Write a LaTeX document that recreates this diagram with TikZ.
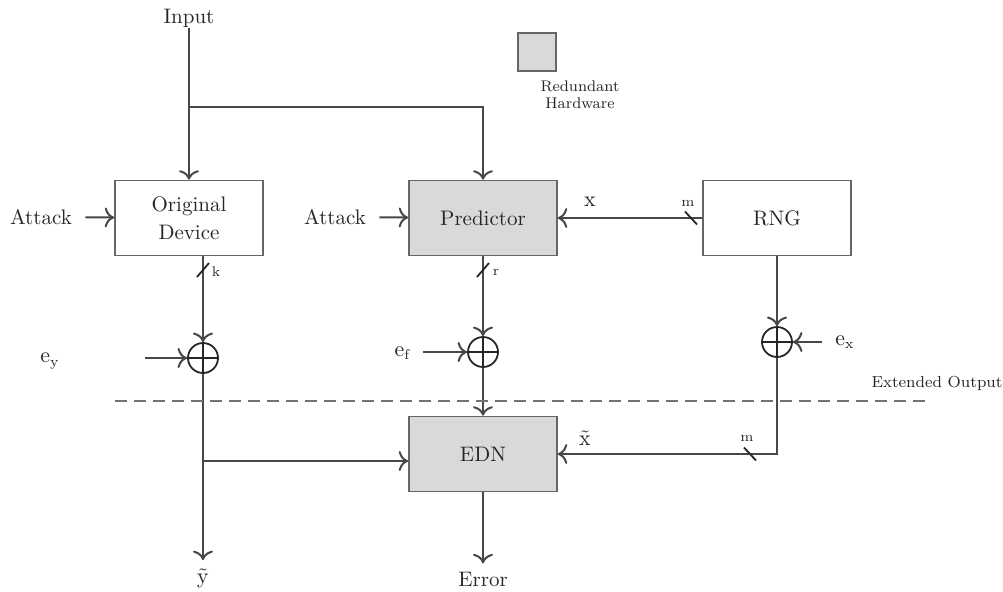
\documentclass[tikz,border=0pt]{standalone}
\usetikzlibrary{arrows.meta}
\begin{document}
\begin{tikzpicture}[x=0.5pt,y=-0.5pt,
  >={To[scale=1.25]},
  line/.style={draw=black!72, line width=1pt},
  arr/.style={line,->},
  blk/.style={draw=black!60, line width=0.8pt, minimum width=74pt, minimum height=37.5pt, inner sep=0pt, font=\fontsize{10.5}{14}\selectfont, align=center, text=black!85},
  redbox/.style={blk, fill=black!15},
  xorn/.style={circle, draw=black!85, line width=0.9pt, minimum size=15pt, inner sep=0pt,
    path picture={\draw[black!85,line width=0.8pt] (path picture bounding box.north) -- (path picture bounding box.south) (path picture bounding box.west) -- (path picture bounding box.east);}},
  lbl/.style={font=\fontsize{10.5}{12}\selectfont, text=black!85, inner sep=0pt},
  sml/.style={font=\fontsize{7}{8}\selectfont, text=black!85, inner sep=0pt},
  bus/.style={draw=black!85, line width=0.9pt},
]
\useasboundingbox (0,0) rectangle (1003,591);
% blocks
\node[blk] (orig) at (189,218) {Original\\Device};
\node[redbox] (pred) at (483,218) {Predictor};
\node[blk] (rng) at (777,218) {RNG};
\node[redbox] (edn) at (483,454) {EDN};
% xor
\node[xorn] (xory) at (203,358) {};
\node[xorn] (xorf) at (483,352) {};
\node[xorn] (xorx) at (777,342) {};
% labels
\node[lbl] (input) at (189,18) {Input};
\node[lbl] (att1) at (41,217) {Attack};
\node[lbl] (att2) at (335,217) {Attack};
\node[lbl] (ey) at (50,361) {$\mathrm{e_y}$};
\node[lbl] (ef) at (403,353) {$\mathrm{e_f}$};
\node[lbl] (ex) at (845,342) {$\mathrm{e_x}$};
\node[lbl] (ytil) at (203,578) {$\tilde{\mathrm{y}}$};
\node[lbl] (err) at (483,579) {Error};
\node[lbl] (xl) at (590,202) {$\mathrm{x}$};
\node[lbl] (xtl) at (585,438) {$\tilde{\mathrm{x}}$};
\node[sml] (k) at (216,272) {k};
\node[sml] (r) at (496,272) {r};
\node[sml] (m1) at (688,203) {m};
\node[sml] (m2) at (747,438) {m};
\node[fill=black!15, draw=black!60, line width=0.8pt, minimum size=19pt, inner sep=0pt] (leg) at (537,52) {};
\node[font=\fontsize{7.7}{8.5}\selectfont, align=center, text=black!85, inner sep=0pt] (legt) at (580,95) {Redundant\\Hardware};
\node[font=\fontsize{8}{9}\selectfont, text=black!85, inner sep=0pt] (ext) at (937,383) {Extended Output};
% coordinates
\coordinate (br1) at (189,107);
\coordinate (br2) at (203,461);
\coordinate (eys) at (145,358);
\coordinate (efs) at (423,352);
\coordinate (exs) at (822,342);
\coordinate (dl) at (115,401);
\coordinate (dr) at (925,401);
\coordinate (sk) at (203,270);
\coordinate (sr) at (483,270);
\coordinate (sm1) at (691,218);
\coordinate (sm2) at (750,454);
% connectors
\draw[arr] (input) -- (orig);
\draw[arr] (br1) -| (pred.north);
\draw[arr, shorten <=6.5pt] (att1) -- (orig);
\draw[arr, shorten <=6.5pt] (att2) -- (pred);
\draw[arr] (orig.south -| xory) -- (xory);
\draw[arr] (eys) -- (xory);
\draw[arr, shorten >=4pt] (xory) -- (ytil);
\draw[arr] (br2) -- (br2 -| edn.west);
\draw[arr] (pred) -- (xorf);
\draw[arr] (efs) -- (xorf);
\draw[arr] (xorf) -- (edn);
\draw[arr, shorten >=4pt] (edn) -- (err);
\draw[arr] (rng) -- (pred);
\draw[arr] (rng) -- (xorx);
\draw[arr] (exs) -- (xorx);
\draw[arr] (xorx) |- (edn);
\draw[black!55, line width=1.2pt, dash pattern=on 6pt off 3.5pt] (dl) -- (dr);
% bus slashes
\draw[bus] (sk) +(-6,7) -- +(6,-7);
\draw[bus] (sr) +(-6,7) -- +(6,-7);
\draw[bus] (sm1) +(-6,-6.5) -- +(6,6.5);
\draw[bus] (sm2) +(-6,-6.5) -- +(6,6.5);
\end{tikzpicture}
\end{document}
